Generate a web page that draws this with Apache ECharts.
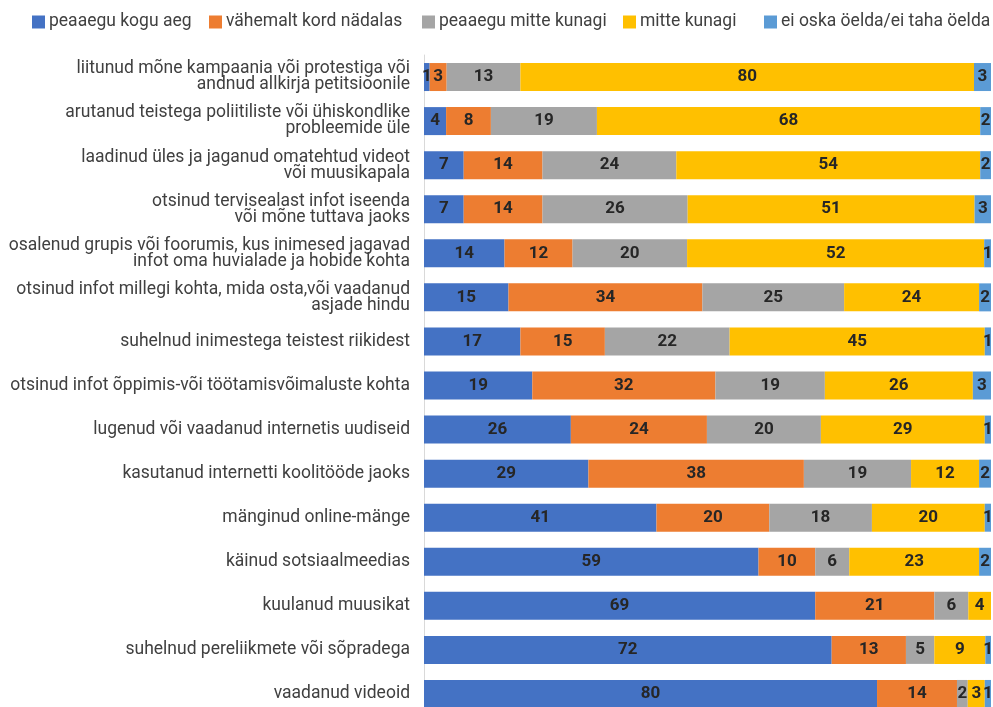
<!DOCTYPE html>
<html><head><meta charset="utf-8">
<script src="https://cdn.jsdelivr.net/npm/echarts@6/dist/echarts.min.js"></script>
<style>html,body{margin:0;padding:0;background:#fff}#c{width:993px;height:707px}</style>
</head><body><div id="c"></div>
<script>
const categories = [
  "liitunud mõne kampaania või protestiga või\nandnud allkirja petitsioonile",
  "arutanud teistega poliitiliste või ühiskondlike\nprobleemide üle",
  "laadinud üles ja jaganud omatehtud videot\nvõi muusikapala",
  "otsinud tervisealast infot iseenda\nvõi mõne tuttava jaoks",
  "osalenud grupis või foorumis, kus inimesed jagavad\ninfot oma huvialade ja hobide kohta",
  "otsinud infot millegi kohta, mida osta,või vaadanud\nasjade hindu",
  "suhelnud inimestega teistest riikidest",
  "otsinud infot õppimis-või töötamisvõimaluste kohta",
  "lugenud või vaadanud internetis uudiseid",
  "kasutanud internetti koolitööde jaoks",
  "mänginud online-mänge",
  "käinud sotsiaalmeedias",
  "kuulanud muusikat",
  "suhelnud pereliikmete või sõpradega",
  "vaadanud videoid"
];
const seriesNames = ["peaaegu kogu aeg","vähemalt kord nädalas","peaaegu mitte kunagi","mitte kunagi","ei oska öelda/ei taha öelda"];
const almostAlways = [1.0, 3.9, 7.0, 7.0, 14.2, 14.9, 17.0, 19.1, 25.9, 29.0, 41.0, 59.0, 69.0, 71.9, 79.9];
const weekly       = [3.0, 7.9, 13.9, 13.9, 12.0, 34.2, 14.9, 32.3, 24.0, 38.0, 19.9, 10.0, 21.0, 13.1, 14.1];
const almostNever  = [13.0, 18.7, 23.6, 25.6, 20.2, 25.0, 22.0, 19.3, 20.1, 18.9, 18.1, 6.0, 6.0, 5.0, 1.9];
const never        = [80.0, 67.6, 53.6, 50.6, 52.4, 23.8, 45.0, 26.1, 28.9, 12.0, 19.9, 22.9, 4.0, 9.0, 3.0];
const dontKnow     = [3.0, 1.9, 1.9, 2.9, 1.2, 2.1, 1.1, 3.2, 1.1, 2.1, 1.1, 2.1, 0, 1.0, 1.1];
const colors = ["#4472C4","#ED7D31","#A5A5A5","#FFC000","#5B9BD5"];
const allData = [almostAlways, weekly, almostNever, never, dontKnow];
const legendLefts = [32, 209, 422, 623, 764];

const FONT = "Roboto";
const chart = echarts.init(document.getElementById('c'));
chart.setOption({
  animation: false,
  color: colors,
  textStyle: { fontFamily: FONT },
  legend: seriesNames.map((n, i) => ({
    top: 13, left: legendLefts[i], itemWidth: 13, itemHeight: 13, padding: 0,
    icon: 'rect',
    textStyle: { fontFamily: FONT, fontSize: 17.5, color: '#404040', padding: [0,0,0,-1] },
    data: [n]
  })),
  grid: { left: 424, right: 2, top: 55, height: 661, outerBoundsMode: 'none', containLabel: false },
  xAxis: { type: 'value', min: 0, max: 100, show: false },
  yAxis: {
    type: 'category', inverse: true, data: categories,
    axisLine: { show: true, lineStyle: { color: '#D9D9D9', width: 1 } },
    axisTick: { show: false },
    axisLabel: { fontFamily: FONT, fontSize: 17.5, color: '#404040', lineHeight: 16, margin: 14, align: 'right' }
  },
  series: allData.map((d, i) => ({
    name: seriesNames[i], type: 'bar', stack: 'total', data: d,
    barWidth: 28,
    label: {
      show: true, position: 'inside', fontFamily: FONT, fontSize: 17, fontWeight: 'bold', color: '#262626',
      formatter: p => p.value > 0 ? String(Math.round(p.value)) : ''
    }
  }))
});
</script></body></html>
